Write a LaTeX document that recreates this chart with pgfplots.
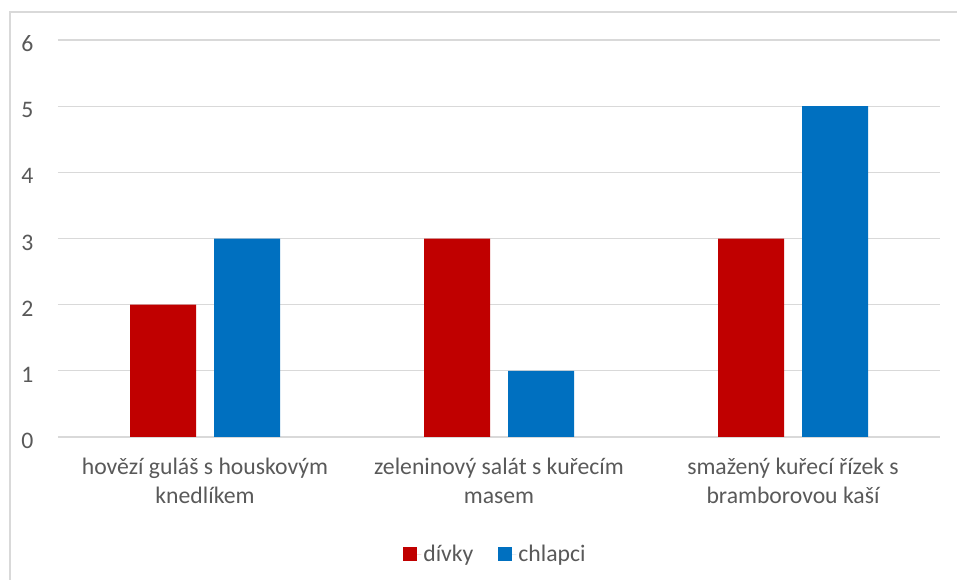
\documentclass[border=0pt]{standalone}
\usepackage{pgfplots}
\pgfplotsset{compat=1.18}
\usepackage{fontspec}
\setmainfont{Carlito}
\definecolor{cred}{HTML}{C00000}
\definecolor{cblue}{HTML}{0070C0}
\definecolor{cgrid}{HTML}{D9D9D9}
\definecolor{ctext}{HTML}{595959}
\begin{document}
\begin{tikzpicture}
\useasboundingbox (0bp,0bp) rectangle (957bp,580bp);
\draw[cgrid, line width=1.2bp] (10bp,0bp) -- (10bp,568bp) -- (957bp,568bp);
\begin{axis}[
  at={(58bp,143bp)}, anchor=south west,
  scale only axis, width=882bp, height=397bp,
  xmin=-0.5, xmax=2.5, ymin=0, ymax=6,
  enlargelimits=false,
  ytick={0,1,2,3,4,5,6},
  xtick={0,1,2},
  xticklabels={{hovězí guláš s houskovým\\knedlíkem},{zeleninový salát s kuřecím\\masem},{smažený kuřecí řízek s\\bramborovou kaší}},
  ymajorgrids, grid style={cgrid, line width=1.2bp},
  axis line style={draw=none},
  major tick length=0pt,
  /pgf/number format/assume math mode=true,
  tick label style={font=\fontsize{23.7bp}{29bp}\selectfont, text=ctext},
  xticklabel style={align=center, anchor=north, yshift=-18bp},
  yticklabel style={anchor=east, xshift=-21bp, yshift=-4bp},
  ybar=18bp, bar width=66bp,
  legend columns=2,
  legend style={draw=none, at={(0.496,-0.295)}, anchor=center,
    font=\fontsize{23.7bp}{29bp}\selectfont, text=ctext,
    /tikz/every even column/.append style={column sep=23bp}},
  legend image code/.code={\fill[#1] (0bp,-7bp) rectangle (14bp,7bp); \path (0bp,0bp) -- (18bp,0bp);},
]
\addplot[draw=none, fill=cred] coordinates {(0,2) (1,3) (2,3)};
\addplot[draw=none, fill=cblue] coordinates {(0,3) (1,1) (2,5)};
\legend{dívky, chlapci}
\end{axis}
\end{tikzpicture}
\end{document}
